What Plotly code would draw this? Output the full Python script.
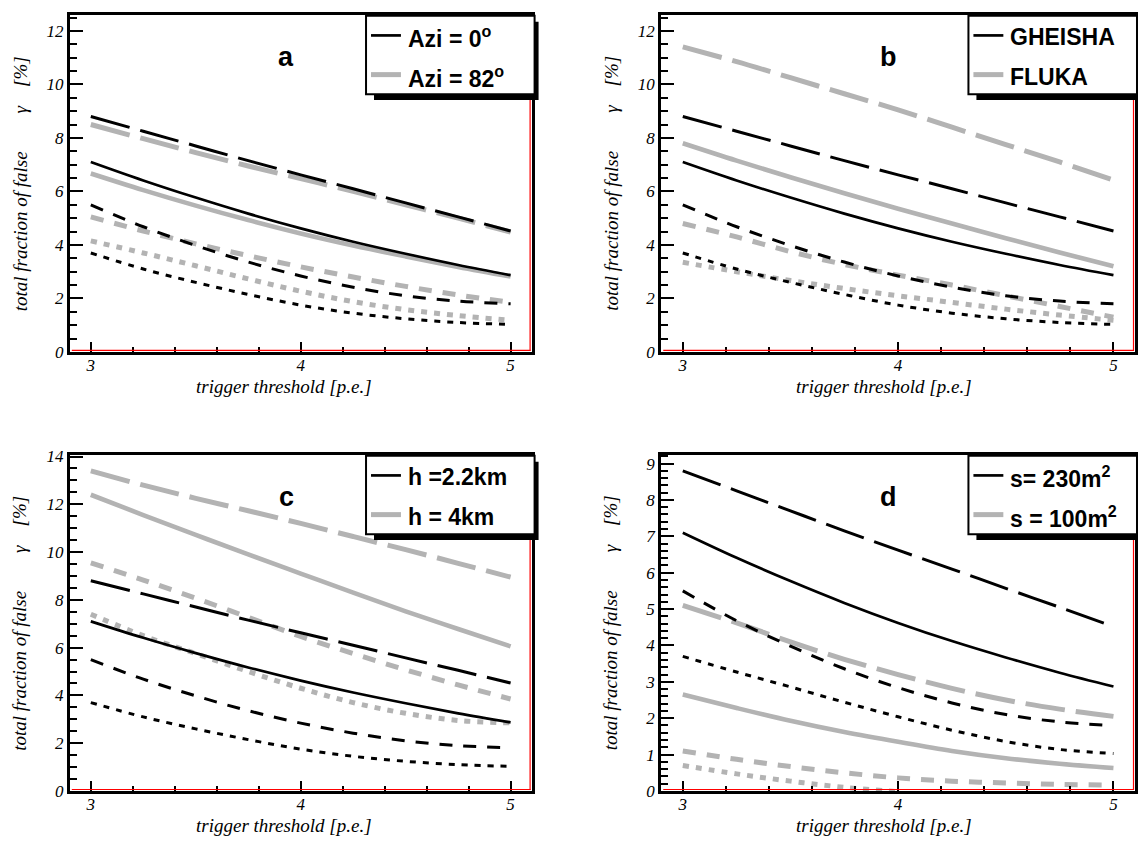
import plotly.graph_objects as go

W, H = 1138, 848

# ---------------- data ----------------
x_thr = [3.0, 3.25, 3.5, 3.75, 4.0, 4.25, 4.5, 4.75, 5.0]

# reference set (black)
ref_longdash = [8.8, 8.25, 7.7, 7.15, 6.62, 6.1, 5.57, 5.05, 4.52]
ref_solid = [7.1, 6.41, 5.77, 5.17, 4.62, 4.12, 3.67, 3.25, 2.87]
ref_dash = [5.5, 4.68, 3.98, 3.36, 2.84, 2.42, 2.1, 1.9, 1.8]
ref_dot = [3.7, 3.1, 2.6, 2.15, 1.75, 1.45, 1.24, 1.1, 1.03]
ref_dot_d = [3.7, 3.27, 2.86, 2.44, 2.04, 1.67, 1.36, 1.14, 1.03]   # panel d reading

# panel a : Azi = 82 deg (gray)
a_longdash = [8.5, 7.97, 7.45, 6.95, 6.48, 6.0, 5.5, 5.0, 4.48]
a_solid = [6.67, 6.05, 5.47, 4.93, 4.43, 3.98, 3.57, 3.18, 2.82]
a_dash = [5.05, 4.52, 4.04, 3.6, 3.18, 2.8, 2.45, 2.13, 1.85]
a_dot = [4.15, 3.7, 3.22, 2.73, 2.27, 1.88, 1.58, 1.36, 1.18]

# panel b : FLUKA (gray)
b_longdash = [11.4, 10.85, 10.25, 9.65, 9.05, 8.4, 7.75, 7.1, 6.42]
b_solid = [7.8, 7.15, 6.53, 5.93, 5.35, 4.8, 4.25, 3.72, 3.2]
b_dash = [4.8, 4.3, 3.75, 3.27, 2.87, 2.5, 2.1, 1.7, 1.3]
b_dot = [3.35, 3.0, 2.67, 2.37, 2.1, 1.85, 1.6, 1.38, 1.18]

# panel c : h = 4km (gray)
c_longdash = [13.4, 12.8, 12.25, 11.73, 11.2, 10.65, 10.1, 9.53, 8.95]
c_solid = [12.4, 11.55, 10.72, 9.9, 9.1, 8.3, 7.52, 6.78, 6.05]
c_dash = [9.55, 8.83, 8.07, 7.27, 6.47, 5.75, 5.07, 4.44, 3.85]
c_dot = [7.4, 6.5, 5.75, 5.0, 4.3, 3.7, 3.25, 2.95, 2.85]

# panel d : s = 100 m2 (gray)
d_longdash = [5.1, 4.62, 4.1, 3.62, 3.2, 2.82, 2.5, 2.25, 2.05]
d_solid = [2.65, 2.28, 1.93, 1.62, 1.35, 1.1, 0.9, 0.75, 0.63]
d_dash = [1.1, 0.87, 0.67, 0.5, 0.36, 0.27, 0.22, 0.18, 0.16]
d_dot = [0.7, 0.47, 0.27, 0.1, -0.02]   # at x = 3 .. 4

panel_letters = ["a", "b", "c", "d"]
legend_black = ["Azi = 0<sup>o</sup>", "GHEISHA", "h =2.2km", "s= 230m<sup>2</sup>"]
legend_gray = ["Azi = 82<sup>o</sup>", "FLUKA", "h = 4km", "s = 100m<sup>2</sup>"]
y_max = [12.6, 12.6, 14.07, 9.24]
y_dtick = [2, 2, 2, 1]
y_minor = [0.5, 0.5, 0.5, 0.2]
x_title = "trigger threshold [p.e.]"
y_title = "total fraction of false" + "\u00a0" * 8 + "\u03b3" + "\u00a0" * 4 + "[%]"

gray_sets = [
    [a_longdash, a_solid, a_dash, a_dot],
    [b_longdash, b_solid, b_dash, b_dot],
    [c_longdash, c_solid, c_dash, c_dot],
    [d_longdash, d_solid, d_dash, d_dot],
]
black_sets = [
    [ref_longdash, ref_solid, ref_dash, ref_dot],
    [ref_longdash, ref_solid, ref_dash, ref_dot],
    [ref_longdash, ref_solid, ref_dash, ref_dot],
    [ref_longdash, ref_solid, ref_dash, ref_dot_d],
]

# ---------------- styles ----------------
BLACK = "#000000"
GRAY = "#b3b3b3"
dashes = ["40px,11px", "solid", "13px,11px", "6px,7px"]
black_w = [3, 2.7, 3, 3]
gray_w = [5, 4.6, 5, 5]
SERIF = "Liberation Serif, Times New Roman, Times, serif"
SANS = "Liberation Sans, Arial, Helvetica, sans-serif"

# panel pixel boxes: (left, right, top, bottom)
boxes = [(70, 533, 8, 352), (663, 1138, 8, 352), (70, 533, 457, 800), (663, 1138, 457, 800)]


def px(x):
    return x / W


def py(y):
    return 1 - y / H


fig = go.Figure()
layout = dict(width=W, height=H, margin=dict(l=0, r=0, t=0, b=0),
              paper_bgcolor="white", plot_bgcolor="white", showlegend=False)
shapes = []
annotations = []

for i in range(4):
    sfx = "" if i == 0 else str(i + 1)
    xa, ya = "x" + sfx, "y" + sfx
    L, R, T, B = boxes[i]
    # traces: gray first, then black
    for k, ys in enumerate(gray_sets[i]):
        fig.add_trace(go.Scatter(x=x_thr[:len(ys)], y=ys, mode="lines", xaxis=xa, yaxis=ya,
                                 line=dict(color=GRAY, width=gray_w[k], dash=dashes[k],
                                           shape="spline", smoothing=1.0),
                                 hoverinfo="skip"))
    for k, ys in enumerate(black_sets[i]):
        fig.add_trace(go.Scatter(x=x_thr, y=ys, mode="lines", xaxis=xa, yaxis=ya,
                                 line=dict(color=BLACK, width=black_w[k], dash=dashes[k],
                                           shape="spline", smoothing=1.0),
                                 hoverinfo="skip"))

    tickfont = dict(family=SERIF, size=17, color="black", style="italic")
    layout["xaxis" + sfx] = dict(
        domain=[px(L), min(1.0, px(R))], anchor=ya, range=[2.9, 5.1],
        tick0=3, dtick=1, ticks="inside", ticklen=10, tickwidth=2, tickcolor="black",
        showline=True, linecolor="black", linewidth=2.5, mirror=True,
        showgrid=False, zeroline=False, tickfont=tickfont, ticklabelstandoff=-4,
        minor=dict(tick0=3, dtick=0.2, ticks="inside", ticklen=5, tickwidth=1.5,
                   tickcolor="black", showgrid=False))
    layout["yaxis" + sfx] = dict(
        domain=[py(B), py(T)], anchor=xa, range=[0, y_max[i]],
        tick0=0, dtick=y_dtick[i], ticks="inside", ticklen=13, tickwidth=2, tickcolor="black",
        showline=True, linecolor="black", linewidth=3, mirror=True,
        showgrid=False, zeroline=False, tickfont=tickfont,
        minor=dict(tick0=0, dtick=y_minor[i], ticks="inside", ticklen=7, tickwidth=1.5,
                   tickcolor="black", showgrid=False))

    # red frame lines (inside bottom / right)
    shapes.append(dict(type="line", xref="paper", yref="paper", layer="above",
                       x0=px(L + 2), x1=px(R - 1), y0=py(B - 1.5), y1=py(B - 1.5),
                       line=dict(color="red", width=1.2)))
    shapes.append(dict(type="line", xref="paper", yref="paper", layer="above",
                       x0=px(R - 1.5), x1=px(R - 1.5), y0=py(T + 2), y1=py(B - 1),
                       line=dict(color="red", width=1.2)))

    # legend box with shadow
    bx0 = L + 297 if i in (0, 2) else L + 308
    bx1 = bx0 + 169
    by0 = T + 1
    by1 = T + 81
    shapes.append(dict(type="rect", xref="paper", yref="paper", layer="above",
                       x0=px(bx0 + 8), x1=px(bx1 + 4), y0=py(by1 + 6), y1=py(by0 + 6),
                       fillcolor="black", line=dict(width=0)))
    shapes.append(dict(type="rect", xref="paper", yref="paper", layer="above",
                       x0=px(bx0), x1=px(bx1), y0=py(by1), y1=py(by0),
                       fillcolor="white", line=dict(color="black", width=2)))
    # legend keys
    shapes.append(dict(type="line", xref="paper", yref="paper", layer="above",
                       x0=px(bx0 + 5), x1=px(bx0 + 35), y0=py(by0 + 20), y1=py(by0 + 20),
                       line=dict(color=BLACK, width=2.7)))
    shapes.append(dict(type="line", xref="paper", yref="paper", layer="above",
                       x0=px(bx0 + 5), x1=px(bx0 + 35), y0=py(by0 + 60), y1=py(by0 + 60),
                       line=dict(color=GRAY, width=5)))
    annotations.append(dict(text=legend_black[i], xref="paper", yref="paper",
                            x=px(bx0 + 40), y=py(by0 + 22), xanchor="left", yanchor="middle",
                            showarrow=False, font=dict(family=SANS, size=23, color="black", weight="bold")))
    annotations.append(dict(text=legend_gray[i], xref="paper", yref="paper",
                            x=px(bx0 + 40), y=py(by0 + 62), xanchor="left", yanchor="middle",
                            showarrow=False, font=dict(family=SANS, size=23, color="black", weight="bold")))
    # panel letter
    cx = (L + 217) if i in (0, 2) else (L + 228)
    annotations.append(dict(text=panel_letters[i], xref="paper", yref="paper",
                            x=px(cx), y=py(T + 43), xanchor="center", yanchor="middle",
                            showarrow=False, font=dict(family=SANS, size=27, color="black", weight="bold")))
    # axis titles
    tx = (L + 215) if i in (0, 2) else (L + 223)
    annotations.append(dict(text=x_title, xref="paper", yref="paper",
                            x=px(tx), y=py(B + 35), xanchor="center", yanchor="middle",
                            showarrow=False, font=dict(family=SERIF, size=19, color="black", style="italic")))
    annotations.append(dict(text=y_title, xref="paper", yref="paper",
                            x=px(L - 50), y=py((T + B) / 2), xanchor="center", yanchor="middle",
                            textangle=-90, showarrow=False,
                            font=dict(family=SERIF, size=19, color="black", style="italic")))

layout["shapes"] = shapes
layout["annotations"] = annotations
fig.update_layout(**layout)
fig.write_html("out.html")
